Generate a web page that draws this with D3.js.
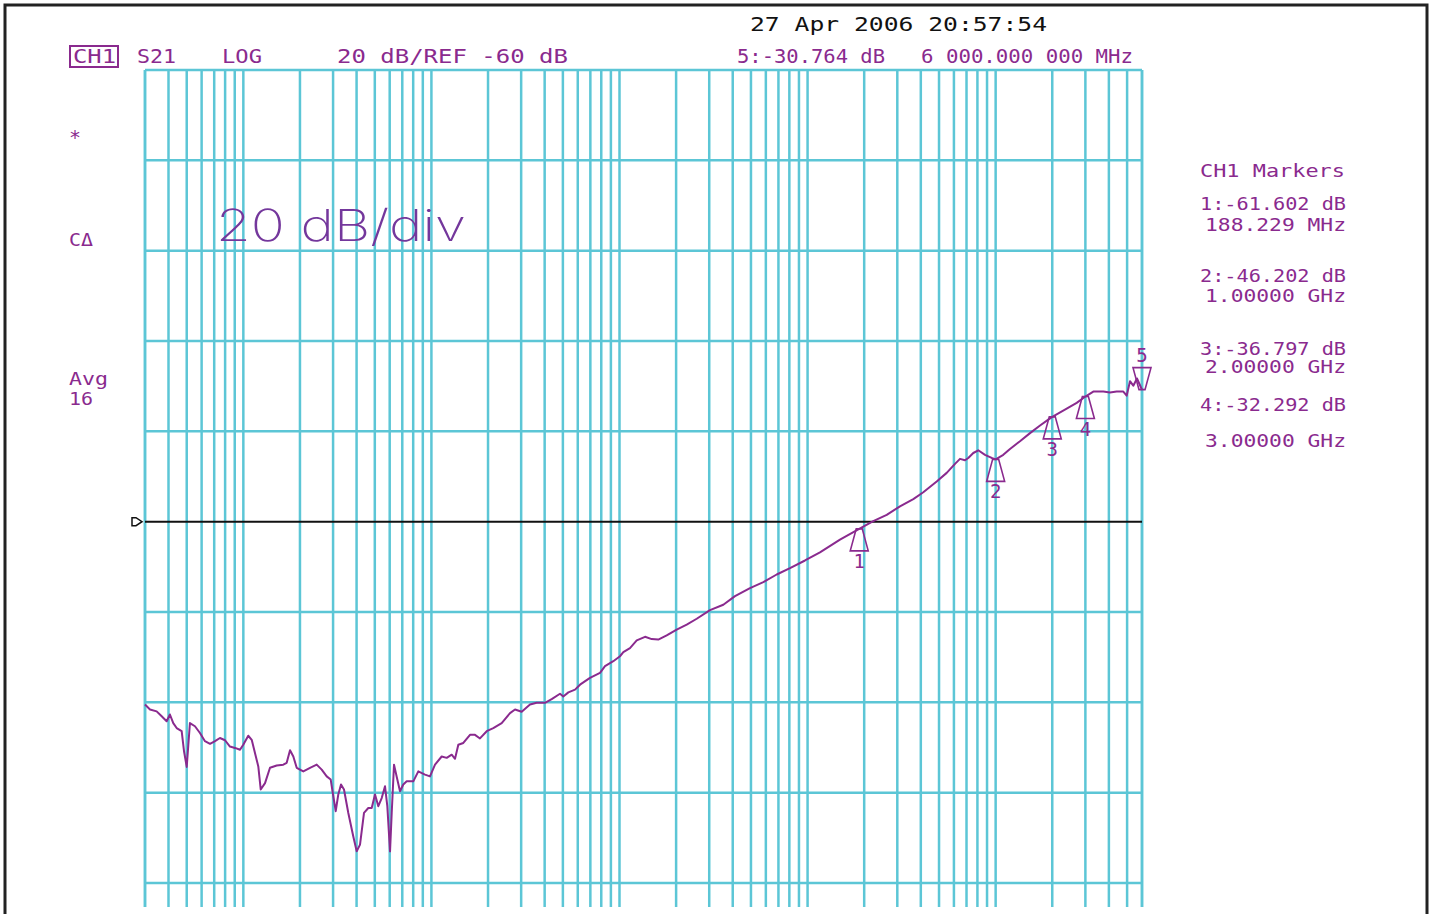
<!DOCTYPE html>
<html>
<head>
<meta charset="utf-8">
<script src="https://cdn.jsdelivr.net/npm/d3@7"></script>
<style>
  body { margin: 0; background: #fff; }
  svg text { font-family: "DejaVu Sans Mono", monospace; }
  svg text.big { font-family: "Inter", "DejaVu Sans", sans-serif; font-weight: 200; }
</style>
</head>
<body>
<svg id="chart" width="1433" height="914"></svg>
<script>
// S21 trace, frequency in MHz and magnitude in dB
var traceFreqMHz = [
  0.0300, 0.0319, 0.0346, 0.0368, 0.0391, 0.0407, 0.0424, 0.0442, 0.0470, 0.0484,
  0.0500, 0.0510, 0.0520, 0.0553, 0.0588, 0.0625, 0.0665, 0.0707, 0.0751, 0.0799,
  0.0849, 0.0903, 0.0960, 0.0999, 0.1062, 0.1108, 0.1153, 0.1201, 0.1237, 0.1304,
  0.1386, 0.1504, 0.1631, 0.1700, 0.1771, 0.1844, 0.1922, 0.2084, 0.2262, 0.2455,
  0.2610, 0.2775, 0.2914, 0.3008, 0.3099, 0.3198, 0.3306, 0.3429, 0.3615, 0.3843,
  0.4006, 0.4172, 0.4381, 0.4618, 0.4814, 0.5013, 0.5220, 0.5441, 0.5666, 0.5828,
  0.6025, 0.6150, 0.6326, 0.6587, 0.6807, 0.7088, 0.7388, 0.8011, 0.8517, 0.9244,
  0.9826, 1.045, 1.134, 1.206, 1.282, 1.335, 1.390, 1.478, 1.604, 1.705,
  1.812, 1.968, 2.133, 2.364, 2.618, 2.783, 3.020, 3.343, 3.627, 4.016,
  4.360, 4.827, 5.026, 5.346, 5.802, 6.168, 6.969, 7.877, 8.374, 9.271,
  10.06, 10.48, 11.37, 12.35, 13.67, 14.84, 16.08, 17.82, 20.14, 22.77,
  25.74, 30.28, 35.64, 41.13, 49.42, 58.17, 68.52, 80.64, 96.89, 116.4,
  148.7, 188.2, 223.5, 263.5, 310.0, 364.9, 412.4, 485.9, 549.1, 608.0,
  646.3, 687.0, 715.4, 760.5, 808.4, 877.8, 952.8, 1000, 1098, 1192,
  1347, 1523, 1722, 1905, 2000, 2386, 2697, 3000, 3305, 3736,
  4055, 4401, 4772, 4974, 5180, 5393, 5643, 6000
];
var traceDb = [
  -100.5, -101.6, -102.0, -103.1, -104.2, -102.7, -104.6, -105.7, -106.4, -110.9,
  -114.3, -109.4, -104.6, -105.3, -106.8, -108.6, -109.2, -108.6, -107.9, -108.4,
  -109.8, -110.1, -110.5, -109.4, -107.4, -108.3, -111.2, -114.2, -119.3, -117.9,
  -114.5, -114.0, -113.8, -113.4, -110.6, -112.0, -114.5, -115.3, -114.5, -113.8,
  -114.9, -116.4, -117.1, -120.8, -124.1, -120.4, -118.2, -119.3, -124.5, -129.7,
  -133.0, -131.5, -124.5, -123.4, -123.4, -120.4, -123.0, -121.2, -118.6, -123.0,
  -133.0, -124.5, -113.8, -117.1, -119.7, -118.2, -117.5, -117.5, -115.3, -116.0,
  -116.4, -113.8, -112.0, -112.3, -111.6, -112.5, -109.4, -109.0, -107.2, -107.2,
  -108.0, -106.4, -105.7, -104.6, -102.4, -101.6, -102.1, -100.5, -100.1, -100.1,
  -99.3, -98.1, -98.7, -97.8, -97.2, -96.1, -94.6, -93.5, -92.0, -90.9,
  -89.8, -88.9, -88.0, -86.3, -85.5, -86.0, -86.1, -85.2, -83.9, -82.8,
  -81.5, -79.6, -78.4, -76.5, -74.7, -73.4, -71.7, -70.3, -68.6, -66.8,
  -64.0, -61.6, -59.9, -58.5, -56.6, -55.0, -53.5, -51.1, -49.2, -47.2,
  -46.1, -46.4, -45.9, -44.8, -44.2, -45.2, -45.9, -46.2, -45.2, -43.9,
  -42.2, -40.4, -38.7, -37.4, -36.8, -35.0, -33.7, -32.3, -31.2, -31.2,
  -31.4, -31.2, -31.2, -32.1, -28.9, -29.9, -28.3, -30.8
];

var markerFreqMHz = [188.229, 1000, 2000, 3000, 6000];
var markerDb = [-61.602, -46.202, -36.797, -32.292, -30.764];
var markerNames = ["1", "2", "3", "4", "5"];
var markerListDb = ["1:-61.602 dB", "2:-46.202 dB", "3:-36.797 dB", "4:-32.292 dB"];
var markerListFreq = ["188.229 MHz", "1.00000 GHz", "2.00000 GHz", "3.00000 GHz"];

var startMHz = 0.03, stopMHz = 6000;
var refDb = -60, dbPerDiv = 20, topDb = 40, bottomDb = -140;

var purple = "#8a2a8e";
var gridColor = "#5cc6d6";

var svg = d3.select("svg#chart");

var x = d3.scaleLog().domain([startMHz, stopMHz]).range([145, 1142]);
var y = d3.scaleLinear().domain([topDb, topDb - 10 * dbPerDiv]).range([70, 973.3]);
var gridBottom = 907;

// outer frame
svg.append("rect")
   .attr("x", 5).attr("y", 5)
   .attr("width", 1422).attr("height", 1000)
   .attr("fill", "none")
   .attr("stroke", "#222")
   .attr("stroke-width", 3);

// grid
var grid = svg.append("g").attr("class", "grid");
grid.selectAll("line.v")
    .data(x.ticks().concat([startMHz, stopMHz]))
    .enter().append("line")
    .attr("class", "v")
    .attr("x1", function (d) { return x(d); })
    .attr("x2", function (d) { return x(d); })
    .attr("y1", y(topDb))
    .attr("y2", gridBottom)
    .attr("stroke", gridColor)
    .attr("stroke-width", 2.5);
grid.selectAll("line.h")
    .data(d3.range(topDb, bottomDb - 1, -dbPerDiv).filter(function (d) { return d !== refDb; }))
    .enter().append("line")
    .attr("class", "h")
    .attr("x1", x(startMHz))
    .attr("x2", x(stopMHz))
    .attr("y1", function (d) { return y(d); })
    .attr("y2", function (d) { return y(d); })
    .attr("stroke", gridColor)
    .attr("stroke-width", 2.5);

// reference line + pointer
svg.append("line")
   .attr("x1", x(startMHz)).attr("x2", x(stopMHz))
   .attr("y1", y(refDb)).attr("y2", y(refDb))
   .attr("stroke", "#111")
   .attr("stroke-width", 2);
var ry = y(refDb);
svg.append("path")
   .attr("d", "M132," + (ry - 4) + " L132," + (ry + 4) + " L136," + (ry + 4) + " L142," + ry + " L136," + (ry - 4) + " Z")
   .attr("fill", "none")
   .attr("stroke", "#111")
   .attr("stroke-width", 1.5);

// trace
var points = traceFreqMHz.map(function (f, i) { return [f, traceDb[i]]; });
var line = d3.line()
   .x(function (d) { return x(d[0]); })
   .y(function (d) { return y(d[1]); });
svg.append("path")
   .datum(points)
   .attr("d", line)
   .attr("fill", "none")
   .attr("stroke", purple)
   .attr("stroke-width", 2)
   .attr("stroke-linejoin", "round");

// markers
var mk = svg.selectAll("g.marker")
   .data(markerFreqMHz.map(function (f, i) { return { f: f, db: markerDb[i], name: markerNames[i], down: i === 4 }; }))
   .enter().append("g")
   .attr("class", "marker")
   .attr("transform", function (d) { return "translate(" + x(d.f) + "," + y(d.db) + ")"; });
mk.append("path")
  .attr("d", function (d) {
    return d.down ? "M-3,0 L3,0 L9,-22 L-9,-22 Z" : "M-3,0 L3,0 L9,22 L-9,22 Z";
  })
  .attr("fill", "none")
  .attr("stroke", purple)
  .attr("stroke-width", 1.6);
mk.append("text")
  .attr("x", 0)
  .attr("y", function (d) { return d.down ? -28 : 39; })
  .attr("text-anchor", "middle")
  .attr("font-size", 19)
  .attr("fill", purple)
  .text(function (d) { return d.name; });

// texts
function label(str, x0, y0, w, size, color) {
  var t = svg.append("text")
     .attr("x", x0).attr("y", y0)
     .attr("font-size", size)
     .attr("fill", color)
     .text(str);
  if (w) t.attr("textLength", w).attr("lengthAdjust", "spacingAndGlyphs");
  return t;
}

label("27 Apr 2006  20:57:54", 750, 31, 297, 20, "#111");
svg.append("rect")
   .attr("x", 70).attr("y", 46).attr("width", 48).attr("height", 21)
   .attr("fill", "none").attr("stroke", purple).attr("stroke-width", 2);
label("CH1", 73, 63, 43, 19, purple);
label("S21", 137, 63, 39, 19, purple);
label("LOG", 222, 63, 40, 19, purple);
label("20 dB/REF -60 dB", 337, 63, 231, 19, purple);
label("5:-30.764 dB", 737, 63, 148, 19, purple);
label("6 000.000 000 MHz", 921, 63, 212, 19, purple);

label("*", 69, 144, 12, 20, purple);
label("C\u0394", 69, 246, 24, 18, purple);
label("Avg", 69, 385, 39, 17, purple);
label("16", 69, 405, 24, 17, purple);

label("CH1 Markers", 1200, 177, 145, 18, purple);
var listY = [[210, 231], [282, 302], [355, 373], [411, 447]];
markerListDb.forEach(function (s, i) {
  label(s, 1200, listY[i][0], 146, 17, purple);
  label(markerListFreq[i], 1205, listY[i][1], 141, 17, purple);
});

label("20 dB/div", 216, 241, 250, 44, "#74379c")
   .attr("class", "big");
</script>
</body>
</html>
